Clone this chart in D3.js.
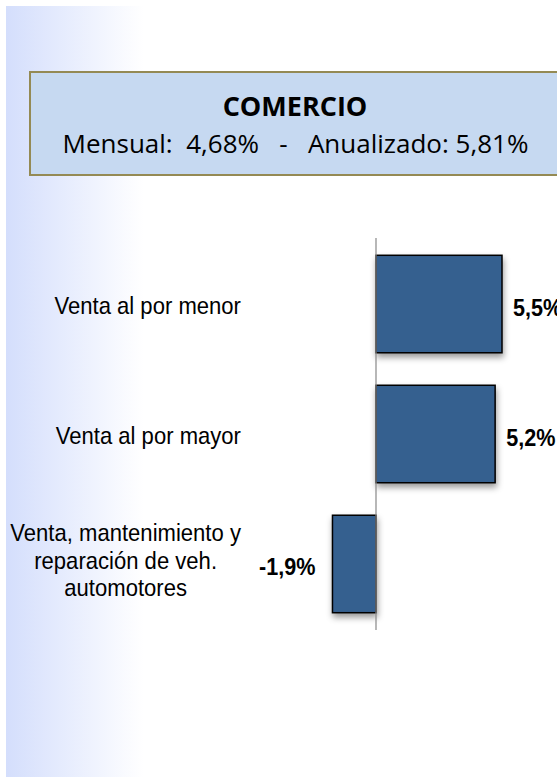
<!DOCTYPE html>
<html lang="es">
<head>
<meta charset="utf-8">
<title>Comercio</title>
<script src="https://d3js.org/d3.v7.min.js"></script>
<style>
  body { margin: 0; background: #fff; }
  svg { display: block; }
</style>
</head>
<body>
<script>
// data
var categories = ["Venta al por menor", "Venta al por mayor", "Venta, mantenimiento y|reparación de veh.|automotores"];
var values = [5.5, 5.2, -1.9];
var valueLabels = ["5,5%", "5,2%", "-1,9%"];
var title = "COMERCIO";
var subtitle = "Mensual:  4,68%   -   Anualizado: 5,81%";

var w = 557, h = 778;
var narrowFont = "'Liberation Sans', Arial, sans-serif";
var narrow = 0.92; // no Arial Narrow installed, squeeze Liberation Sans instead

var svg = d3.select("body").append("svg")
  .attr("width", w)
  .attr("height", h);

var defs = svg.append("defs");

//background gradient panel
var grad = defs.append("linearGradient").attr("id", "bg")
  .attr("x1", "0").attr("x2", "1").attr("y1", "0").attr("y2", "0");
grad.append("stop").attr("offset", "0").attr("stop-color", "#d4defc");
grad.append("stop").attr("offset", "0.25").attr("stop-color", "#ffffff");
grad.append("stop").attr("offset", "1").attr("stop-color", "#ffffff");

var shadow = defs.append("filter").attr("id", "shadow")
  .attr("x", "-20%").attr("y", "-20%").attr("width", "150%").attr("height", "150%");
shadow.append("feDropShadow").attr("dx", 1).attr("dy", 4).attr("stdDeviation", 3)
  .attr("flood-color", "#000").attr("flood-opacity", 0.4);

svg.append("rect")
  .attr("x", 6).attr("y", 6)
  .attr("width", w - 6).attr("height", 771)
  .attr("fill", "url(#bg)");

//title box
svg.append("rect")
  .attr("x", 30).attr("y", 72)
  .attr("width", 540).attr("height", 103)
  .attr("fill", "#c6d9f1")
  .attr("stroke", "#948a54")
  .attr("stroke-width", 2);

svg.append("text")
  .attr("x", 295).attr("y", 116)
  .attr("text-anchor", "middle")
  .style("font-family", "'Open Sans', sans-serif")
  .style("font-weight", "bold")
  .style("font-size", "27px")
  .text(title);

svg.append("text")
  .attr("x", 295.5).attr("y", 153)
  .attr("text-anchor", "middle")
  .attr("xml:space", "preserve")
  .style("white-space", "pre")
  .style("font-family", "'Open Sans', sans-serif")
  .style("font-size", "26px")
  .text(subtitle);

//scales
var x = d3.scaleLinear()
  .domain([0, 5.5])
  .range([376, 502]);

var y = d3.scaleBand()
  .domain(d3.range(categories.length))
  .range([238, 630])
  .paddingInner(0.25)
  .paddingOuter(0.133);

//bars
svg.selectAll(".bar")
  .data(values)
  .enter()
  .append("rect")
  .attr("class", "bar")
  .attr("x", function(d) { return x(Math.min(0, d)); })
  .attr("y", function(d, i) { return y(i); })
  .attr("width", function(d) { return Math.abs(x(d) - x(0)); })
  .attr("height", y.bandwidth())
  .attr("fill", "#36608f")
  .attr("stroke", "#000")
  .attr("stroke-width", 1.5)
  .attr("filter", "url(#shadow)");

//zero axis
svg.append("line")
  .attr("x1", x(0)).attr("x2", x(0))
  .attr("y1", 238).attr("y2", 630)
  .attr("stroke", "#888")
  .attr("stroke-width", 1.2);

//value labels (the first one runs off the right edge, as in the original)
svg.selectAll(".val")
  .data(values)
  .enter()
  .append("text")
  .attr("class", "val")
  .attr("transform", function(d, i) {
    var tx = d >= 0 ? x(d) + 11 : x(d) - 17;
    var ty = y(i) + y.bandwidth() / 2 + 11.5;
    return "translate(" + tx + "," + ty + ") scale(" + narrow + ",1)";
  })
  .attr("text-anchor", function(d) { return d >= 0 ? "start" : "end"; })
  .style("font-family", narrowFont)
  .style("font-weight", "bold")
  .style("font-size", "23.5px")
  .text(function(d, i) { return valueLabels[i]; });

//category labels: lines centred in a block right-aligned at x=241
categories.forEach(function(c, i) {
  var lines = c.split("|");
  var g = svg.append("g");
  var texts = g.selectAll("text")
    .data(lines)
    .enter()
    .append("text")
    .style("font-family", narrowFont)
    .style("font-size", "24px")
    .attr("text-anchor", "middle")
    .text(function(d) { return d; });
  var maxW = 0;
  texts.each(function() { maxW = Math.max(maxW, this.getComputedTextLength() * narrow); });
  var cx = 241 - maxW / 2;
  var cy = y(i) + y.bandwidth() / 2;
  var lh = 27.5;
  var off = 10 - (lines.length - 1) * 2.5;
  texts.attr("transform", function(d, j) {
    var ty = cy + (j - (lines.length - 1) / 2) * lh + off;
    return "translate(" + cx + "," + ty + ") scale(" + narrow + ",1)";
  });
});
</script>
</body>
</html>
